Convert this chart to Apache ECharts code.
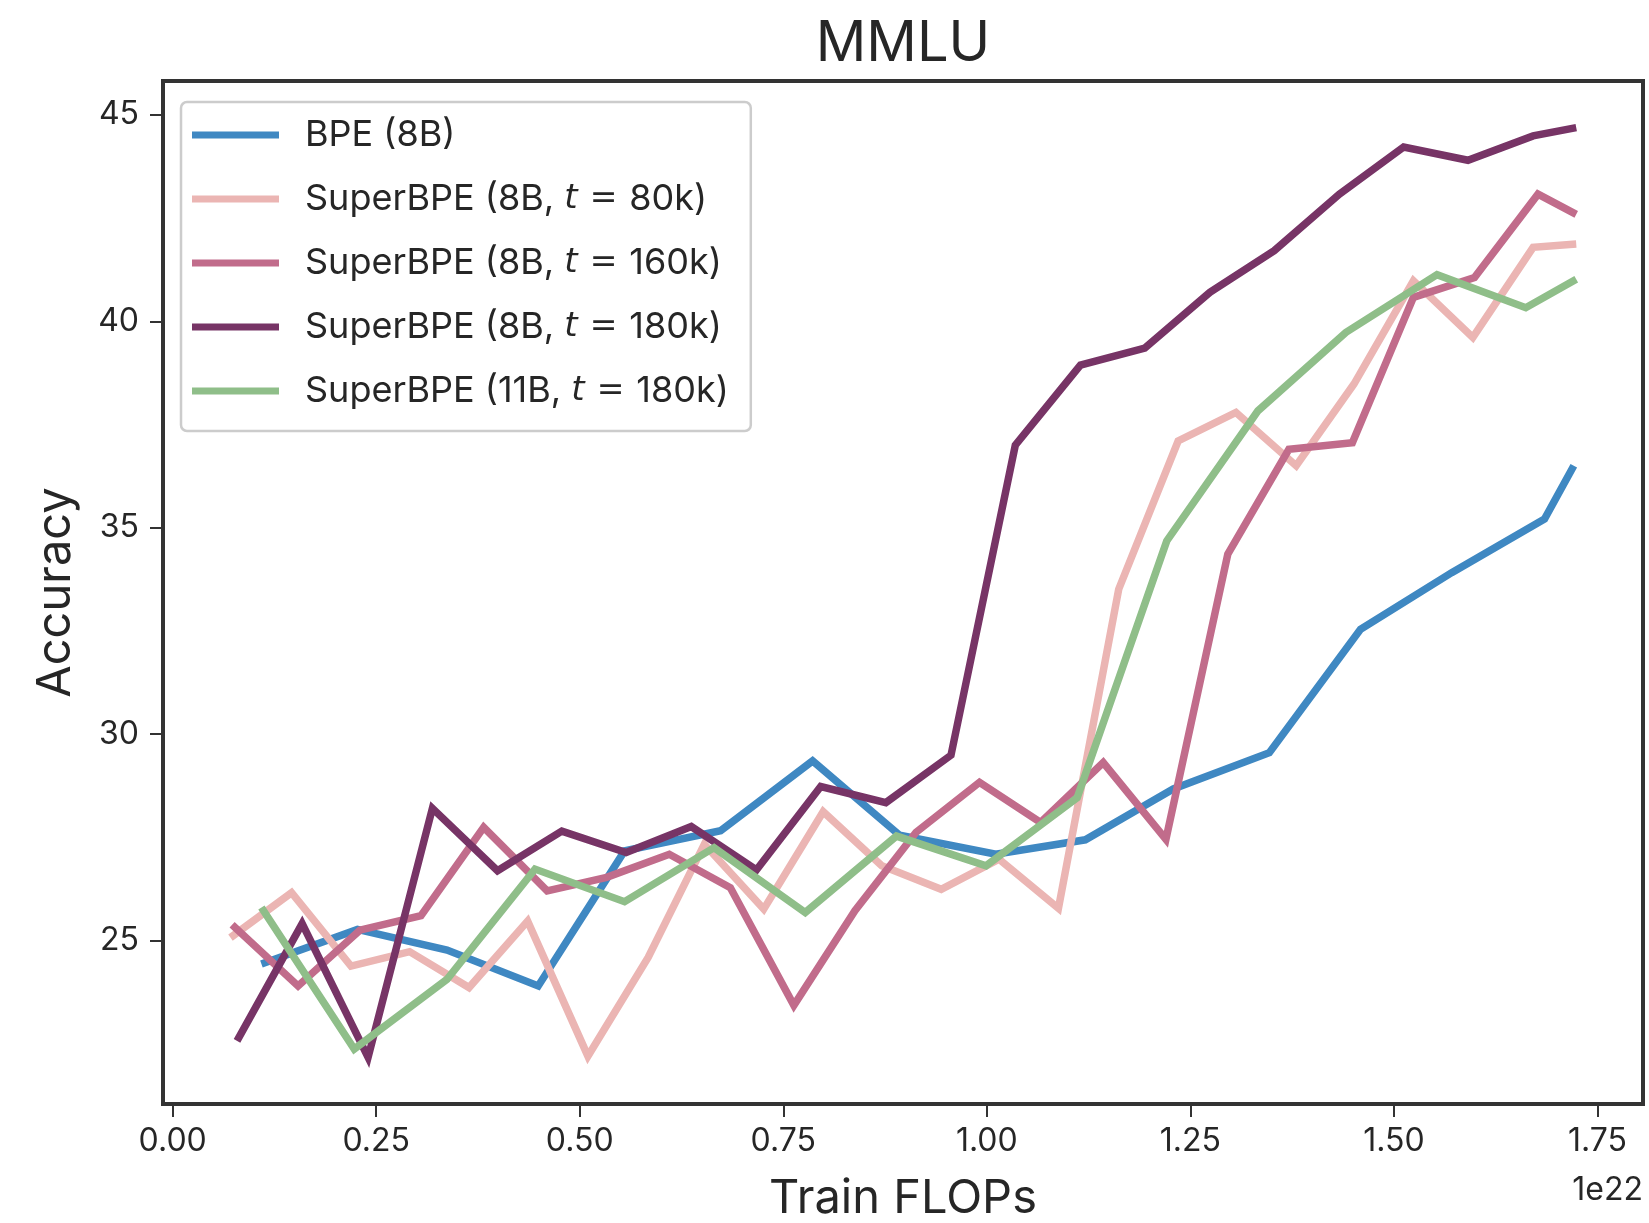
<!DOCTYPE html>
<html>
<head>
<meta charset="utf-8">
<script src="https://cdn.jsdelivr.net/npm/echarts@6/dist/echarts.min.js"></script>
<style>
html,body{margin:0;padding:0;background:#fff;}
#chart{width:1649px;height:1223px;}
</style>
</head>
<body>
<div id="chart"></div>
<script>
// ---- Data (x in units of 1e22 FLOPs, y = accuracy) ----
const bpeX = [0.109, 0.227, 0.337, 0.449, 0.555, 0.673, 0.786, 0.893, 1.011, 1.121, 1.229, 1.347, 1.459, 1.571, 1.685, 1.721];
const bpeY = [24.43, 25.27, 24.77, 23.90, 27.17, 27.66, 29.35, 27.55, 27.09, 27.44, 28.67, 29.55, 32.54, 33.91, 35.21, 36.50];

const s80X = [0.071, 0.146, 0.219, 0.291, 0.364, 0.436, 0.510, 0.584, 0.653, 0.726, 0.799, 0.871, 0.944, 1.015, 1.088, 1.162, 1.235, 1.306, 1.380, 1.451, 1.524, 1.597, 1.671, 1.724];
const s80Y = [25.07, 26.16, 24.38, 24.73, 23.86, 25.47, 22.20, 24.59, 27.33, 25.76, 28.12, 26.81, 26.24, 26.97, 25.78, 33.51, 37.10, 37.79, 36.50, 38.48, 40.98, 39.61, 41.79, 41.87];

const s160X = [0.073, 0.154, 0.230, 0.305, 0.382, 0.460, 0.533, 0.610, 0.685, 0.763, 0.838, 0.913, 0.991, 1.066, 1.143, 1.220, 1.296, 1.371, 1.449, 1.524, 1.599, 1.677, 1.724];
const s160Y = [25.38, 23.90, 25.25, 25.60, 27.74, 26.20, 26.53, 27.09, 26.28, 23.43, 25.72, 27.62, 28.83, 27.86, 29.31, 27.45, 34.36, 36.90, 37.06, 40.58, 41.06, 43.08, 42.59];

const s180X = [0.079, 0.159, 0.240, 0.319, 0.399, 0.478, 0.557, 0.637, 0.717, 0.796, 0.876, 0.956, 1.035, 1.115, 1.194, 1.274, 1.353, 1.433, 1.512, 1.591, 1.671, 1.724];
const s180Y = [22.57, 25.41, 22.17, 28.20, 26.69, 27.65, 27.13, 27.76, 26.71, 28.73, 28.34, 29.49, 37.00, 38.94, 39.35, 40.70, 41.71, 43.08, 44.22, 43.90, 44.49, 44.69];

const s11X = [0.109, 0.223, 0.337, 0.445, 0.555, 0.665, 0.777, 0.889, 0.999, 1.111, 1.221, 1.333, 1.441, 1.553, 1.662, 1.724];
const s11Y = [25.80, 22.37, 24.06, 26.73, 25.94, 27.25, 25.68, 27.53, 26.81, 28.46, 34.68, 37.83, 39.73, 41.13, 40.33, 41.02];

const seriesNames = ['BPE (8B)', 'SuperBPE (8B, t = 80k)', 'SuperBPE (8B, t = 160k)', 'SuperBPE (8B, t = 180k)', 'SuperBPE (11B, t = 180k)'];
const xTicks = [0, 0.25, 0.5, 0.75, 1.0, 1.25, 1.5, 1.75];
const yTicks = [25, 30, 35, 40, 45];

const colors = ['#3f88c2', '#ebb5b3', '#c16c8b', '#773466', '#8fbe89'];
const pairs = (xs, ys) => xs.map((x, i) => [x, ys[i]]);
const seriesData = [pairs(bpeX, bpeY), pairs(s80X, s80Y), pairs(s160X, s160Y), pairs(s180X, s180Y), pairs(s11X, s11Y)];

const FONT = 'Inter';
const TXT = '#262626';
const LFS = 36;

const chart = echarts.init(document.getElementById('chart'), null, {renderer: 'canvas'});

const legendFormatter = (name) => {
  const m = name.match(/^(.*?, )t = (.*)$/);
  if (!m) return '{n|' + name + '}';
  return '{n|' + m[1] + '}{i|t}{e|=}{n|' + m[2] + '}';
};

chart.setOption({
  animation: false,
  backgroundColor: '#ffffff',
  grid: {
    left: 163, right: 6, top: 81, bottom: 119,
    show: true, borderColor: '#333333', borderWidth: 4, backgroundColor: '#ffffff',
    outerBoundsMode: 'none'
  },
  graphic: [
    {type: 'text', style: {text: 'MMLU', x: 903, y: 44, font: '56px ' + FONT, fill: TXT, align: 'center', verticalAlign: 'middle'}, z: 10},
    {type: 'text', style: {text: '1e22', x: 1643, y: 1190, font: '32px ' + FONT, fill: TXT, align: 'right', verticalAlign: 'middle'}, z: 10}
  ],
  legend: {
    orient: 'vertical',
    left: 181, top: 102,
    data: seriesNames,
    icon: 'rect',
    itemWidth: 87, itemHeight: 7,
    itemGap: 24,
    padding: [13, 22, 20, 11],
    backgroundColor: '#ffffff',
    borderColor: '#cccccc', borderWidth: 2.5, borderRadius: 6,
    formatter: legendFormatter,
    textStyle: {
      color: TXT, fontFamily: FONT, fontSize: LFS, lineHeight: 40,
      padding: [0, 0, 0, 21],
      rich: {
        n: {fontFamily: FONT, fontSize: LFS, color: TXT, lineHeight: 40},
        i: {fontFamily: 'DejaVu Sans', fontStyle: 'italic', fontSize: 34, color: TXT, lineHeight: 40},
        e: {fontFamily: 'DejaVu Sans', fontSize: 33, color: TXT, lineHeight: 40, padding: [0, 12, 0, 12]}
      }
    }
  },
  xAxis: {
    type: 'value', min: -0.0119, max: 1.806,
    name: 'Train FLOPs', nameLocation: 'middle', nameGap: 71,
    nameTextStyle: {fontFamily: FONT, fontSize: 47, color: TXT},
    axisLine: {show: true, onZero: false, lineStyle: {color: '#333333', width: 4}},
    axisTick: {show: true, inside: false, length: 13, lineStyle: {color: '#333333', width: 2}, customValues: xTicks},
    axisLabel: {show: true, margin: 21, fontFamily: FONT, fontSize: 32, color: TXT, customValues: xTicks,
      formatter: v => v.toFixed(2)},
    splitLine: {show: false}
  },
  yAxis: {
    type: 'value', min: 21.04, max: 45.82,
    name: 'Accuracy', nameLocation: 'middle', nameGap: 84, nameRotate: 90,
    nameTextStyle: {fontFamily: FONT, fontSize: 47, color: TXT},
    axisLine: {show: true, onZero: false, lineStyle: {color: '#333333', width: 4}},
    axisTick: {show: true, inside: false, length: 13, lineStyle: {color: '#333333', width: 2}, customValues: yTicks},
    axisLabel: {show: true, margin: 24, fontFamily: FONT, fontSize: 32, color: TXT, customValues: yTicks,
      formatter: v => String(Math.round(v))},
    splitLine: {show: false}
  },
  series: seriesNames.map((name, i) => ({
    name: name,
    type: 'line',
    data: seriesData[i],
    showSymbol: false,
    symbol: 'none',
    color: colors[i],
    lineStyle: {color: colors[i], width: 7.5, cap: 'butt', join: 'miter'},
    itemStyle: {color: colors[i]},
    emphasis: {disabled: true}
  }))
});
</script>
</body>
</html>
